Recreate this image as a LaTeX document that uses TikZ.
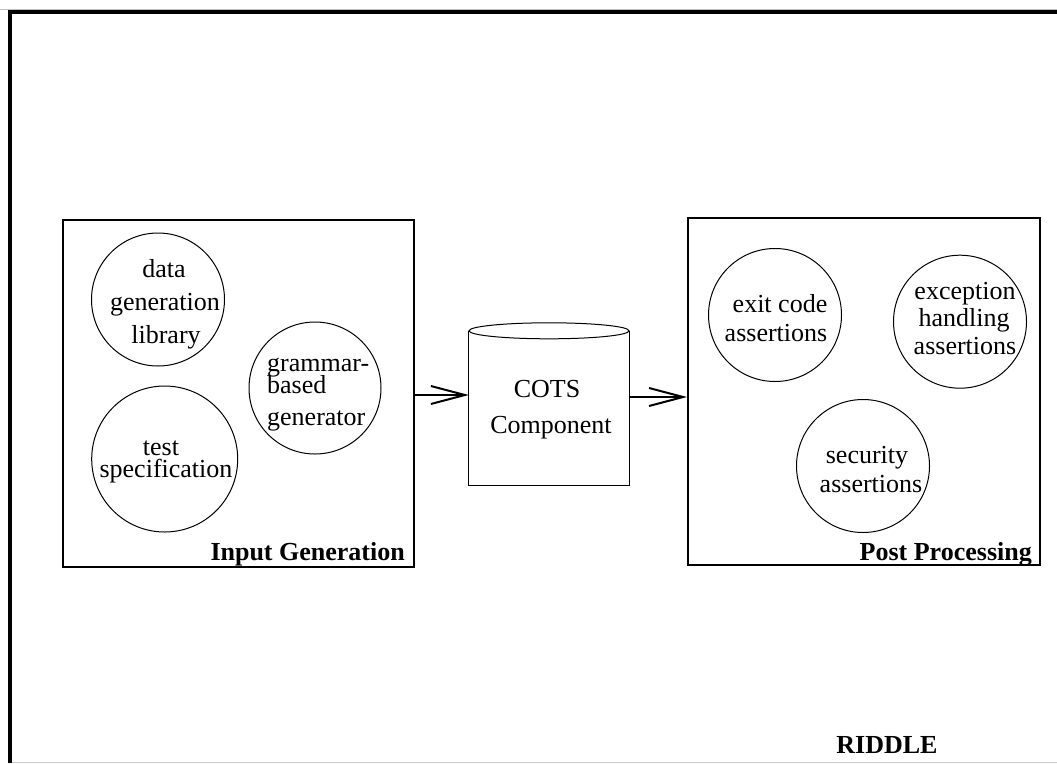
\documentclass[tikz,border=0pt]{standalone}
\usepackage{fontspec}
\setmainfont{Liberation Serif}
\usetikzlibrary{arrows.meta}
\begin{document}
\begin{tikzpicture}[x=1pt,y=-1pt,
  txt/.style={anchor=base,inner sep=0pt,font=\fontsize{26}{30}\selectfont},
  ltxt/.style={anchor=base west,inner sep=0pt,font=\fontsize{26}{30}\selectfont},
  btxt/.style={anchor=base east,inner sep=0pt,font=\fontsize{26}{30}\selectfont\bfseries},
  bubble/.style={draw,circle,line width=1pt,inner sep=0pt},
  group/.style={draw,line width=2pt},
  flow/.style={line width=2pt,-{Straight Barb[length=34pt,width=18pt,line width=2pt]}}]
\useasboundingbox (0,0) rectangle (1057,763);
% outer frame
\draw[gray!50,line width=1pt] (0,9.5) -- (1057,9.5);
\draw[gray!40,line width=1pt] (12,762.5) -- (1057,762.5);
\draw[line width=4.5pt] (10,763) -- (10,12) -- (1057,12);
% groups
\node[group,minimum width=351pt,minimum height=347pt,inner sep=0pt] (ig) at (238.5,393.5) {};
\node[group,minimum width=352pt,minimum height=347pt,inner sep=0pt] (pp) at (864,391.5) {};
\node[btxt] (igl) at (405,560) {Input Generation};
\node[btxt] (ppl) at (1032,560) {Post Processing};
% left circles
\node[bubble,minimum size=133pt] (dgl) at (158,299.5) {};
\node[txt] (t1) at (164,277) {data};
\node[txt] (t2) at (165,310) {generation};
\node[txt] (t3) at (166,343) {library};
\node[bubble,minimum size=132pt] (gbg) at (315,388) {};
\node[ltxt] (t4) at (267,371) {grammar-};
\node[ltxt] (t5) at (267,393) {based};
\node[ltxt] (t6) at (267,425) {generator};
\node[bubble,minimum size=146pt] (ts) at (164.7,459) {};
\node[txt] (t7) at (161,455) {test};
\node[txt] (t8) at (166,477) {specification};
% right circles
\node[bubble,minimum size=133pt] (eca) at (775,315) {};
\node[txt] (t9) at (780,312) {exit code};
\node[txt] (t10) at (776,341) {assertions};
\node[bubble,minimum size=133pt] (eha) at (960,321.7) {};
\node[txt] (t11) at (965,299) {exception};
\node[txt] (t12) at (964,326) {handling};
\node[txt] (t13) at (965,354) {assertions};
\node[bubble,minimum size=133pt] (sa) at (863,466) {};
\node[txt] (t14) at (867,463) {security};
\node[txt] (t15) at (871,492) {assertions};
% COTS cylinder
\node[minimum width=160pt,minimum height=154pt,inner sep=0pt] (cots) at (549,408) {};
\draw[line width=1pt] (cots.north west) -- (cots.south west) -- (cots.south east) -- (cots.north east);
\draw[line width=1pt,fill=white] (cots.north) ellipse [x radius=80pt,y radius=8pt];
\node[txt] (c1) at (547,397) {COTS};
\node[txt] (c2) at (551,433) {Component};
% arrows
\draw[flow] (ig.east |- 0,395) -- (cots.west |- 0,395);
\draw[flow] (cots.east |- 0,397) -- (pp.west |- 0,397);
% title
\node[txt,font=\fontsize{26}{30}\selectfont\bfseries] (riddle) at (887,753) {RIDDLE};
\end{tikzpicture}
\end{document}
